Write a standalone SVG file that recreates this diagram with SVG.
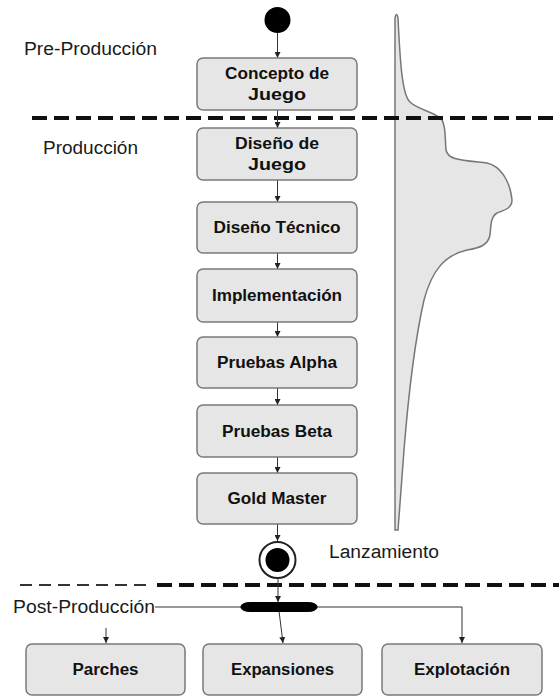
<svg xmlns="http://www.w3.org/2000/svg" width="559" height="696" viewBox="0 0 559 696">
<style>
.box{fill:#e6e6e6;stroke:#7a7a7a;stroke-width:1.5}
.bt{font-family:"Liberation Sans",Arial,sans-serif;font-weight:bold;font-size:16px;fill:#111;text-anchor:middle}
.lbl{font-family:"Liberation Sans",Arial,sans-serif;font-size:18px;fill:#1a1a1a}
.conn{stroke:#333;stroke-width:1;fill:none}
.dash{stroke:#111;stroke-width:4;stroke-dasharray:15 7;fill:none}
</style>
<defs>
<marker id="arr" markerWidth="6" markerHeight="6" refX="6" refY="3" orient="auto" markerUnits="userSpaceOnUse">
<path d="M0,0 L6,3 L0,6 z" fill="#222"/>
</marker>
</defs>
<rect width="559" height="696" fill="#fff"/>

<g id="effort-curve">
<path d="M395,530 L395,18 Q396.5,11 398,18 C400,60 402,95 410,102 C418,110 436,112 442,120 C446,126 445,140 446,150 C448,160 460,160 487,163 C500,166 510,180 512,200 C512,208 505,210 497,213 C490,217 491,228 490,235 C488,245 480,248 467,250 C445,255 432,270 424,300 C415,340 408,400 404,450 C401,490 399,515 398,530 Z" fill="#e6e6e6" stroke="#777" stroke-width="1.5"/>
</g>

<g id="separators">
<line class="dash" x1="32" y1="118" x2="559" y2="118"/>
<line x1="20" y1="585" x2="152" y2="585" stroke="#333" stroke-width="2" stroke-dasharray="12 7"/>
<line class="dash" x1="157" y1="585" x2="559" y2="585"/>
</g>

<g id="labels">
<text class="lbl" x="24" y="55" textLength="133" lengthAdjust="spacingAndGlyphs">Pre-Producción</text>
<text class="lbl" x="43" y="154" textLength="95" lengthAdjust="spacingAndGlyphs">Producción</text>
<text class="lbl" x="329" y="558" textLength="110" lengthAdjust="spacingAndGlyphs">Lanzamiento</text>
<text class="lbl" x="13" y="613" textLength="142" lengthAdjust="spacingAndGlyphs">Post-Producción</text>
</g>

<g id="connectors">
<line class="conn" x1="277.5" y1="33" x2="277.5" y2="58" marker-end="url(#arr)"/>
<line class="conn" x1="277.5" y1="110" x2="277.5" y2="128" marker-end="url(#arr)"/>
<line class="conn" x1="277.5" y1="180" x2="277.5" y2="202" marker-end="url(#arr)"/>
<line class="conn" x1="277.5" y1="253" x2="277.5" y2="269" marker-end="url(#arr)"/>
<line class="conn" x1="277.5" y1="322" x2="277.5" y2="337" marker-end="url(#arr)"/>
<line class="conn" x1="277.5" y1="388" x2="277.5" y2="405" marker-end="url(#arr)"/>
<line class="conn" x1="277.5" y1="457" x2="277.5" y2="473" marker-end="url(#arr)"/>
<line class="conn" x1="277.5" y1="524" x2="277.5" y2="541" marker-end="url(#arr)"/>
<line class="conn" x1="278" y1="579" x2="278" y2="602" marker-end="url(#arr)"/>
<line class="conn" x1="155" y1="607" x2="240" y2="607" stroke="#555"/>
<polyline class="conn" points="318,607 462,607 462,643" stroke="#555" marker-end="url(#arr)"/>
<line class="conn" x1="279" y1="611" x2="283" y2="643" marker-end="url(#arr)"/>
<line class="conn" x1="106" y1="628" x2="106" y2="643" marker-end="url(#arr)"/>
</g>

<g id="start">
<circle cx="277.5" cy="20" r="13" fill="#000"/>
</g>

<g id="concepto">
<rect class="box" x="197" y="58" width="160" height="52" rx="6"/>
<text class="bt" x="277" y="79" textLength="104" lengthAdjust="spacingAndGlyphs">Concepto de</text>
<text class="bt" x="277" y="100" textLength="58" lengthAdjust="spacingAndGlyphs">Juego</text>
</g>

<g id="diseno-juego">
<rect class="box" x="197" y="128" width="160" height="52" rx="6"/>
<text class="bt" x="277" y="149" textLength="84" lengthAdjust="spacingAndGlyphs">Diseño de</text>
<text class="bt" x="277" y="170" textLength="58" lengthAdjust="spacingAndGlyphs">Juego</text>
</g>

<g id="diseno-tecnico">
<rect class="box" x="197" y="202" width="160" height="51" rx="6"/>
<text class="bt" x="277" y="233" textLength="127" lengthAdjust="spacingAndGlyphs">Diseño Técnico</text>
</g>

<g id="implementacion">
<rect class="box" x="197" y="269" width="160" height="53" rx="6"/>
<text class="bt" x="277" y="301" textLength="130" lengthAdjust="spacingAndGlyphs">Implementación</text>
</g>

<g id="pruebas-alpha">
<rect class="box" x="197" y="337" width="160" height="51" rx="6"/>
<text class="bt" x="277" y="368" textLength="120" lengthAdjust="spacingAndGlyphs">Pruebas Alpha</text>
</g>

<g id="pruebas-beta">
<rect class="box" x="197" y="405" width="160" height="52" rx="6"/>
<text class="bt" x="277" y="437" textLength="110" lengthAdjust="spacingAndGlyphs">Pruebas Beta</text>
</g>

<g id="gold-master">
<rect class="box" x="197" y="473" width="160" height="51" rx="6"/>
<text class="bt" x="277" y="504" textLength="99" lengthAdjust="spacingAndGlyphs">Gold Master</text>
</g>

<g id="lanzamiento">
<circle cx="277.5" cy="560" r="18" fill="#fff" stroke="#222" stroke-width="2"/>
<circle cx="277.5" cy="560" r="12" fill="#000"/>
</g>

<g id="fork">
<path d="M240,607 Q242,602 250,602 L308,602 Q316,602 318,607 Q316,612 308,612 L250,612 Q242,612 240,607 Z" fill="#000"/>
</g>

<g id="parches">
<rect class="box" x="26" y="644" width="159" height="51" rx="6"/>
<text class="bt" x="105.5" y="675" textLength="66" lengthAdjust="spacingAndGlyphs">Parches</text>
</g>

<g id="expansiones">
<rect class="box" x="203" y="644" width="159" height="51" rx="6"/>
<text class="bt" x="282.5" y="675" textLength="103" lengthAdjust="spacingAndGlyphs">Expansiones</text>
</g>

<g id="explotacion">
<rect class="box" x="382" y="644" width="160" height="51" rx="6"/>
<text class="bt" x="462" y="675" textLength="96" lengthAdjust="spacingAndGlyphs">Explotación</text>
</g>
</svg>
